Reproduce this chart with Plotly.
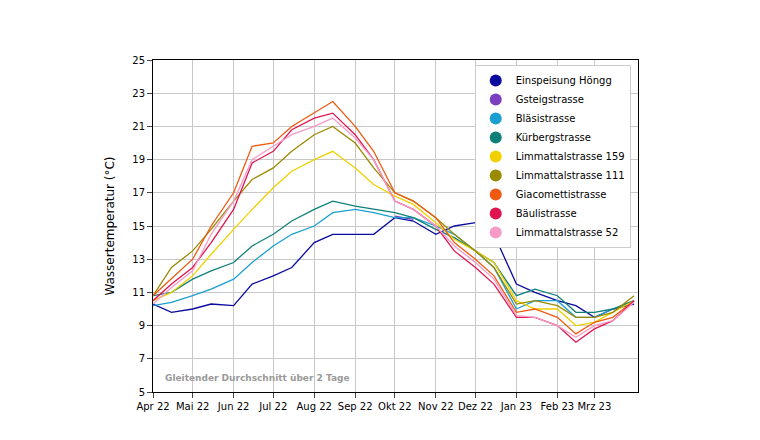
import plotly.graph_objects as go

dates = ["2022-04-01","2022-04-15","2022-05-01","2022-05-15","2022-06-01","2022-06-15","2022-07-01","2022-07-15",
         "2022-08-01","2022-08-15","2022-09-01","2022-09-15","2022-10-01","2022-10-15","2022-11-01","2022-11-15",
         "2022-12-01","2022-12-15","2023-01-01","2023-01-15","2023-02-01","2023-02-15","2023-03-01","2023-03-15","2023-03-31"]

hoengg = [10.3,9.8,10.0,10.3,10.2,11.5,12.0,12.5,14.0,14.5,14.5,14.5,15.5,15.3,14.5,15.0,15.2,14.5,11.5,11.0,10.5,10.2,9.5,10.0,10.3]
gsteig = [None]*12 + [15.6,15.4,None] + [None]*10
blaesi = [10.2,10.4,10.8,11.2,11.8,12.8,13.8,14.5,15.0,15.8,16.0,15.8,15.5,15.5,15.0,14.5,13.5,12.5,10.0,10.5,10.5,9.5,9.5,10.0,10.5]
kuerberg = [10.8,11.0,11.8,12.3,12.8,13.8,14.5,15.3,16.0,16.5,16.2,16.0,15.8,15.5,14.8,14.3,13.5,12.8,10.8,11.2,10.8,9.8,9.8,10.0,10.5]
limm159 = [10.5,11.0,12.0,13.3,14.8,16.0,17.3,18.3,19.0,19.5,18.5,17.5,16.8,16.3,15.2,14.2,13.5,12.8,10.5,10.0,10.0,9.0,9.2,9.8,10.5]
limm111 = [10.8,12.5,13.5,14.8,16.5,17.8,18.5,19.5,20.5,21.0,20.0,18.5,17.0,16.5,15.5,14.5,13.5,12.5,10.3,10.5,10.2,9.5,9.5,9.8,10.8]
giaco = [10.8,11.8,13.0,15.0,17.0,19.8,20.0,21.0,21.8,22.5,21.0,19.5,17.0,16.5,15.5,14.0,13.0,12.0,9.8,10.0,9.5,8.5,9.2,9.5,10.5]
baeuli = [10.5,11.5,12.5,14.0,16.0,18.8,19.5,20.8,21.5,21.8,20.5,19.0,16.5,16.0,15.0,13.5,12.5,11.5,9.5,9.5,9.0,8.0,8.8,9.3,10.5]
limm52 = [10.3,11.3,12.3,14.5,16.5,19.0,19.8,20.5,21.0,21.5,20.3,19.0,16.5,16.0,15.0,13.8,12.8,11.8,9.6,9.5,9.0,8.3,9.0,9.3,10.4]

series = [("Einspeisung Höngg",hoengg,"#0a0aa0"),("Gsteigstrasse",gsteig,"#7b3fbf"),
          ("Bläsistrasse",blaesi,"#1a9fd0"),("Kürbergstrasse",kuerberg,"#0f7f7a"),
          ("Limmattalstrasse 159",limm159,"#f0d000"),("Limmattalstrasse 111",limm111,"#9a8a00"),
          ("Giacomettistrasse",giaco,"#f05a10"),("Bäulistrasse",baeuli,"#e0154f"),
          ("Limmattalstrasse 52",limm52,"#f79ac8")]

tickvals = ["2022-04-01","2022-05-01","2022-06-01","2022-07-01","2022-08-01","2022-09-01","2022-10-01",
            "2022-11-01","2022-12-01","2023-01-01","2023-02-01","2023-03-01"]
ticktext = ["Apr 22","Mai 22","Jun 22","Jul 22","Aug 22","Sep 22","Okt 22","Nov 22","Dez 22","Jan 23","Feb 23","Mrz 23"]

fig = go.Figure()
for name, vals, col in series:
    fig.add_trace(go.Scatter(x=dates, y=vals, name=name, mode="lines", showlegend=False,
                             line=dict(color=col, width=1.3), connectgaps=False))
for name, vals, col in series:
    fig.add_trace(go.Scatter(x=[None], y=[None], name=name, mode="markers",
                             marker=dict(color=col, size=6)))

fig.update_layout(
    width=760, height=440, margin=dict(l=145, r=130, t=52, b=56),
    paper_bgcolor="white", plot_bgcolor="white",
    font=dict(family="DejaVu Sans", size=11, color="black"),
    xaxis=dict(range=["2022-04-01","2023-04-03"], tickvals=tickvals, ticktext=ticktext,
               showgrid=True, gridcolor="#c8c8c8", ticks="outside", showline=True, linecolor="black",
               mirror=True, tickfont=dict(size=10)),
    yaxis=dict(range=[5,25], tick0=5, dtick=2, title=dict(text="Wassertemperatur (°C)", font=dict(size=12)),
               showgrid=True, gridcolor="#c8c8c8", ticks="outside", showline=True, linecolor="black",
               mirror=True, tickfont=dict(size=10)),
    legend=dict(x=0.985, y=0.985, xanchor="right", yanchor="top", bgcolor="white",
                bordercolor="#cccccc", borderwidth=1, font=dict(size=10), tracegroupgap=0,
                itemsizing="constant"),
    annotations=[dict(text="<b>Gleitender Durchschnitt über 2 Tage</b>", xref="paper", yref="paper",
                      x=0.02, y=0.02, xanchor="left", yanchor="bottom", showarrow=False,
                      font=dict(size=9, color="#999999"))]
)
fig.write_html("out.html")
